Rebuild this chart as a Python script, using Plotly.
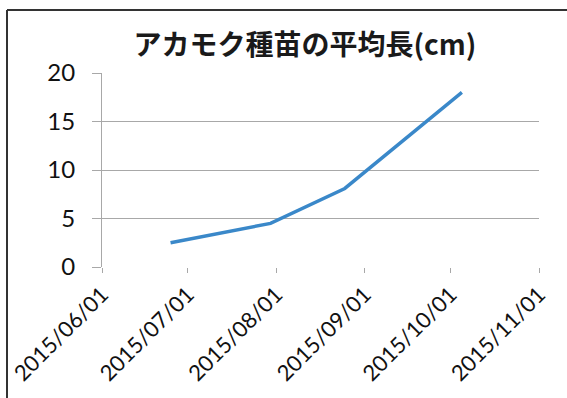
import plotly.graph_objects as go

dates = ["2015-06-25", "2015-07-30", "2015-08-25", "2015-10-05"]
lengths = [2.5, 4.5, 8.1, 18.0]
title_text = "アカモク種苗の平均長(cm)"
x_tick_vals = ["2015-06-01", "2015-07-01", "2015-08-01", "2015-09-01", "2015-10-01", "2015-11-01"]
x_tick_text = ["2015/06/01", "2015/07/01", "2015/08/01", "2015/09/01", "2015/10/01", "2015/11/01"]
y_tick_vals = [0, 5, 10, 15, 20]

W, H = 567, 398
L, R, T, B = 102, 28, 73, 131
pw, ph = W - L - R, H - T - B

def px(x):
    return (x - L) / pw

def py(y):
    return (H - B - y) / ph

fig = go.Figure()
fig.add_trace(go.Scatter(
    x=dates, y=lengths, mode="lines",
    line=dict(color="#3a88c9", width=3.4),
    showlegend=False, hoverinfo="skip",
))

grid = "#a8a8a8"
fig.update_layout(
    width=W, height=H,
    margin=dict(l=L, r=R, t=T, b=B, autoexpand=False),
    paper_bgcolor="white", plot_bgcolor="white",
    title=dict(text=title_text, xref="container", x=305 / W, xanchor="center",
               yref="container", y=1 - 45 / H, yanchor="middle",
               font=dict(family="Noto Sans CJK JP", size=28, color="#1a1a1a", weight="bold")),
    xaxis=dict(
        type="date", range=["2015-06-01", "2015-11-01"],
        tickvals=x_tick_vals, ticktext=x_tick_text, tickangle=-45,
        ticks="outside", ticklen=5, tickcolor=grid, tickwidth=1,
        showgrid=False, showline=False, zeroline=False,
        tickfont=dict(family="Lato", size=22, color="#111111"),
        ticklabelstandoff=0,
    ),
    yaxis=dict(
        range=[0, 20], tickvals=y_tick_vals,
        ticks="outside", ticklen=9, tickcolor=grid, tickwidth=1,
        showgrid=True, gridcolor=grid, gridwidth=1,
        showline=True, linecolor=grid, linewidth=1,
        zeroline=False,
        tickfont=dict(family="Lato", size=24, color="#111111"),
        ticklabelstandoff=12,
    ),
    shapes=[
        dict(type="line", xref="paper", yref="paper", x0=px(7), x1=px(7), y0=py(H), y1=py(10),
             line=dict(color="#333333", width=2)),
        dict(type="line", xref="paper", yref="paper", x0=px(7), x1=px(W), y0=py(10), y1=py(10),
             line=dict(color="#333333", width=2)),
    ],
)

fig.write_html("out.html", config={"displayModeBar": False},
               post_script="document.body.style.margin='0px';document.body.style.padding='0px';")
